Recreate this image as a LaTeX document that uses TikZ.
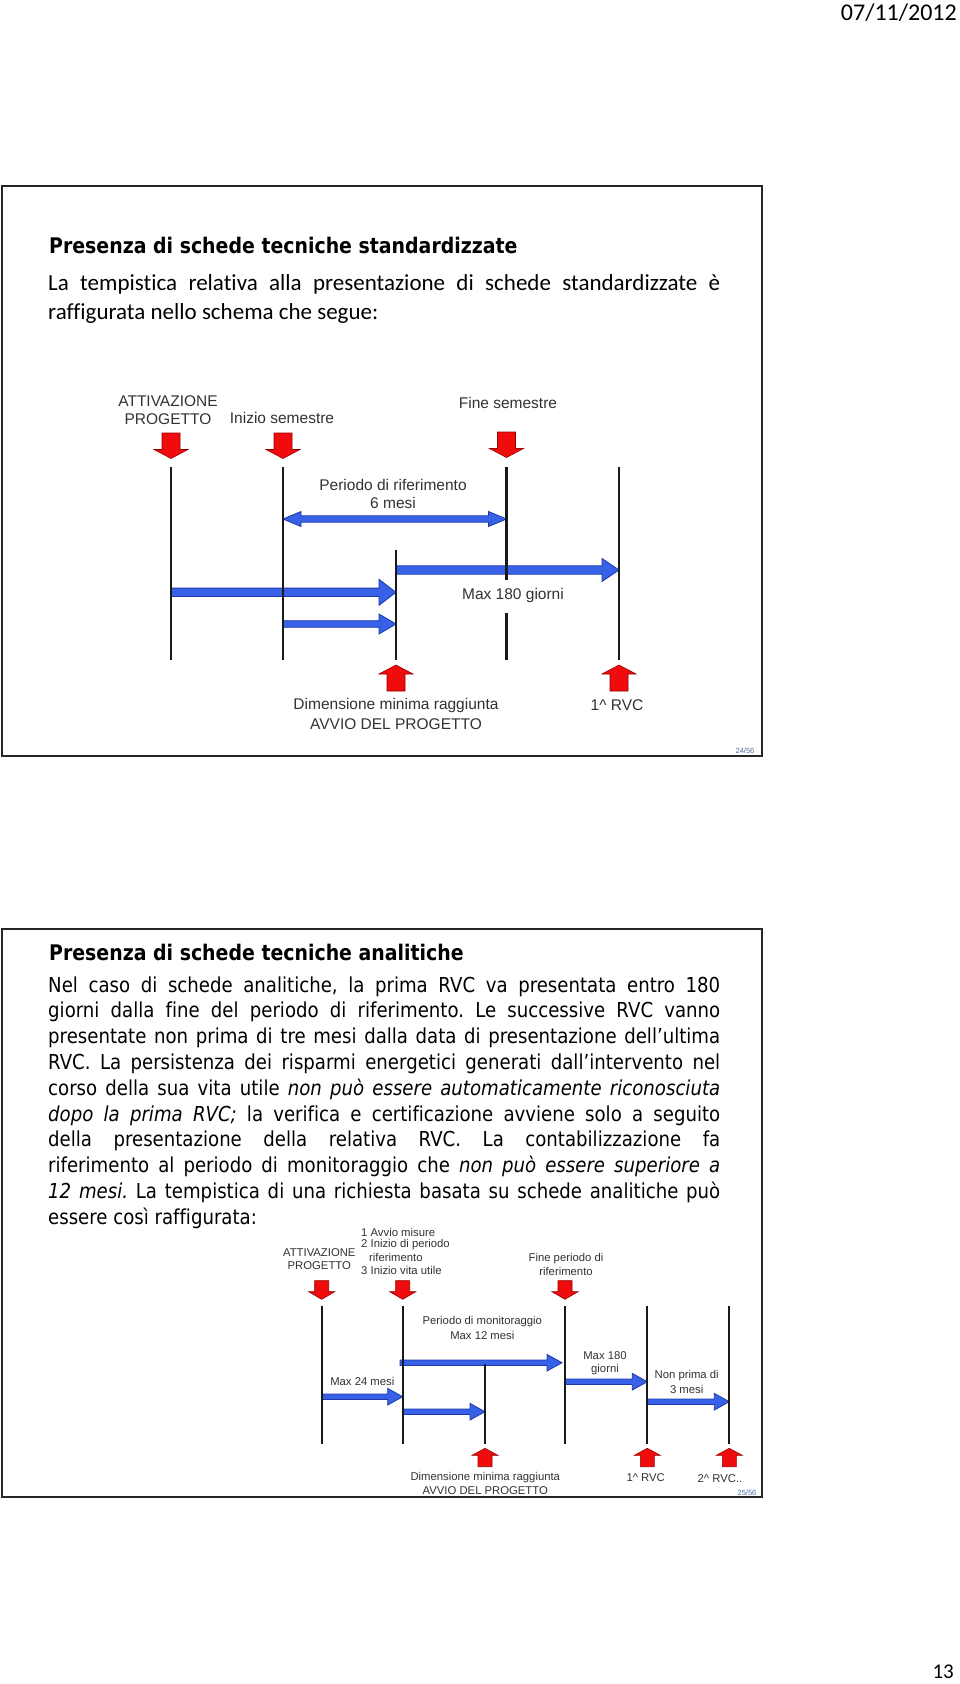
\documentclass[tikz,border=0pt]{standalone}
\usepackage{fontspec}
\setmainfont{Carlito}[Ligatures=NoCommon]
\newfontfamily\diagfont{Liberation Sans}
\newfontfamily\tahomalike{DejaVu Sans}[FakeStretch=0.88, Ligatures=NoCommon]
\usetikzlibrary{calc}
\frenchspacing

\definecolor{bluefill}{RGB}{55,98,232}
\definecolor{blueedge}{RGB}{30,55,170}
\definecolor{redfill}{RGB}{240,12,12}
\definecolor{rededge}{RGB}{150,0,0}
\definecolor{diagtext}{RGB}{50,50,50}
\definecolor{pagenum}{RGB}{80,110,160}

\tikzset{
  tline/.style={line width=2.5pt, black!90},
  blkarrow/.style={fill=bluefill, draw=blueedge, line width=0.8pt},
  redarrow/.style={fill=redfill, draw=rededge, line width=0.6pt},
  dtxtA/.style={font=\diagfont\fontsize{15.5}{18}\selectfont, text=diagtext, inner sep=0},
  dtxtB/.style={font=\diagfont\fontsize{11.3}{13}\selectfont, text=diagtext, inner sep=0},
  bodyA/.style={anchor=west, inner sep=0, font=\fontsize{23}{27}\selectfont, text height=16.5pt, text depth=5.5pt},
  bodyB/.style={anchor=west, inner sep=0, font=\tahomalike\fontsize{20.6}{25}\selectfont, text height=15pt, text depth=5pt},
  ttltxt/.style={anchor=west, inner sep=0, font=\tahomalike\bfseries\fontsize{21.5}{26}\selectfont, text height=18pt, text depth=6pt},
  slideframe/.style={draw=black!85, line width=2pt},
  pnum/.style={font=\diagfont\fontsize{7.5}{9}\selectfont, text=pagenum, inner sep=0}
}

% right block arrow: x1, x2, y, shaft half, head half, head length
\newcommand\rblk[6]{\filldraw[blkarrow] (#1,#3-#4) -- (#2-#6,#3-#4) -- (#2-#6,#3-#5) -- (#2,#3) -- (#2-#6,#3+#5) -- (#2-#6,#3+#4) -- (#1,#3+#4) -- cycle;}
% double block arrow
\newcommand\dblk[6]{\filldraw[blkarrow] (#1,#3) -- (#1+#6,#3-#5) -- (#1+#6,#3-#4) -- (#2-#6,#3-#4) -- (#2-#6,#3-#5) -- (#2,#3) -- (#2-#6,#3+#5) -- (#2-#6,#3+#4) -- (#1+#6,#3+#4) -- (#1+#6,#3+#5) -- cycle;}
% red down arrow: x, ytop, body half, head half, body len, head len
\newcommand\dred[6]{\filldraw[redarrow] (#1-#3,#2) -- (#1+#3,#2) -- (#1+#3,#2+#5) -- (#1+#4,#2+#5) -- (#1,#2+#5+#6) -- (#1-#4,#2+#5) -- (#1-#3,#2+#5) -- cycle;}
% red up arrow: x, ytip, body half, head half, body len, head len
\newcommand\ured[6]{\filldraw[redarrow] (#1,#2) -- (#1+#4,#2+#6) -- (#1+#3,#2+#6) -- (#1+#3,#2+#6+#5) -- (#1-#3,#2+#6+#5) -- (#1-#3,#2+#6) -- (#1-#4,#2+#6) -- cycle;}

\begin{document}
\begin{tikzpicture}[x=1pt,y=-1pt]
\useasboundingbox (0,0) rectangle (960,1684);
\fill[white] (0,0) rectangle (960,1684);

% header / footer
\node[anchor=east, inner sep=0, font=\fontsize{24}{27}\selectfont] (date) at (957,13) {07/11/2012};
\node[anchor=east, inner sep=0, font=\fontsize{21}{24}\selectfont] (pageno) at (954,1672) {13};

% ================= TOP SLIDE =================
\draw[slideframe] (2,186) rectangle (762,756);
\node[pnum] (pn1) at (745,751) {24/56};
\node[ttltxt] (t1) at (49,247) {Presenza di schede tecniche standardizzate};
\node[bodyA] (s1a) at (48,285) {\makebox[672pt][s]{La tempistica relativa alla presentazione di schede standardizzate è}};
\node[bodyA] (s1b) at (48,313.5) {raffigurata nello schema che segue:};

% timeline coordinates
\coordinate (P1t) at (171,467); \coordinate (P1b) at (171,660);
\coordinate (P2t) at (283,467); \coordinate (P2b) at (283,660);
\coordinate (P3t) at (396,550); \coordinate (P3b) at (396,660);
\coordinate (P4t) at (506.5,467); \coordinate (P4m) at (506.5,580);
\coordinate (P4n) at (506.5,612.5); \coordinate (P4b) at (506.5,660);
\coordinate (P5t) at (619,467); \coordinate (P5b) at (619,660);

% blue arrows
\dblk{283}{506.5}{519}{3.2}{7.5}{18}
\rblk{396}{619}{570}{4.2}{11.5}{17}
\rblk{171}{396}{592.3}{4.2}{13}{17}
\rblk{283}{396}{624}{3.3}{10}{17}

% lines
\draw[tline] (P1t) -- (P1b);
\draw[tline] (P2t) -- (P2b);
\draw[tline] (P3t) -- (P3b);
\draw[tline] (P4t) -- (P4m);
\draw[tline] (P4n) -- (P4b);
\draw[tline] (P5t) -- (P5b);

% red arrows
\dred{171}{433}{9}{17}{16.5}{9}
\dred{283}{433}{9}{17}{16.5}{9}
\dred{506.5}{432}{9}{17}{16.5}{9}
\ured{396}{665}{9}{17}{17}{9}
\ured{619}{665}{9}{17}{17}{9}

% texts
\node[dtxtA] (a1) at (168,401) {ATTIVAZIONE};
\node[dtxtA] (a2) at (168,419.5) {PROGETTO};
\node[dtxtA] (a3) at (282,418) {Inizio semestre};
\node[dtxtA] (a4) at (508,403) {Fine semestre};
\node[dtxtA] (a5) at (393,485) {Periodo di riferimento};
\node[dtxtA] (a6) at (393,503) {6 mesi};
\node[dtxtA] (a7) at (513,595) {Max 180 giorni};
\node[dtxtA] (a8) at (396,705) {Dimensione minima raggiunta};
\node[dtxtA] (a9) at (396,724) {AVVIO DEL PROGETTO};
\node[dtxtA] (a10) at (617,705) {1\textasciicircum{} RVC};

% ================= BOTTOM SLIDE =================
\draw[slideframe] (2,929) rectangle (762,1497);
\node[pnum] (pn2) at (747,1493) {25/56};
\node[ttltxt] (t2) at (49,954) {Presenza di schede tecniche analitiche};
\node[bodyB] (l1) at (48,987.0) {\makebox[672pt][s]{Nel caso di schede analitiche, la prima RVC va presentata entro 180}};
\node[bodyB] (l2) at (48,1012.8) {\makebox[672pt][s]{giorni dalla fine del periodo di riferimento. Le successive RVC vanno}};
\node[bodyB] (l3) at (48,1038.6) {\makebox[672pt][s]{presentate non prima di tre mesi dalla data di presentazione dell’ultima}};
\node[bodyB] (l4) at (48,1064.4) {\makebox[672pt][s]{RVC. La persistenza dei risparmi energetici generati dall’intervento nel}};
\node[bodyB] (l5) at (48,1090.2) {\makebox[672pt][s]{corso della sua vita utile \itshape non può essere automaticamente riconosciuta}};
\node[bodyB] (l6) at (48,1116.0) {\makebox[672pt][s]{\textit{dopo la prima RVC;} la verifica e certificazione avviene solo a seguito}};
\node[bodyB] (l7) at (48,1141.8) {\makebox[672pt][s]{della presentazione della relativa RVC. La contabilizzazione fa}};
\node[bodyB] (l8) at (48,1167.6) {\makebox[672pt][s]{riferimento al periodo di monitoraggio che \itshape non può essere superiore a}};
\node[bodyB] (l9) at (48,1193.4) {\makebox[672pt][s]{\textit{12 mesi.} La tempistica di una richiesta basata su schede analitiche può}};
\node[bodyB] (l10) at (48,1219.2) {essere così raffigurata:};

% timeline coordinates
\coordinate (Q1t) at (321.7,1305.7); \coordinate (Q1b) at (321.7,1444.3);
\coordinate (Q2t) at (402.7,1305.7); \coordinate (Q2b) at (402.7,1444.3);
\coordinate (Q3t) at (485,1364);     \coordinate (Q3b) at (485,1444.3);
\coordinate (Q4t) at (565,1305.7);   \coordinate (Q4b) at (565,1444.3);
\coordinate (Q5t) at (647.3,1305.7); \coordinate (Q5b) at (647.3,1444.3);
\coordinate (Q6t) at (729.3,1305.7); \coordinate (Q6b) at (729.3,1444.3);

% blue arrows
\rblk{400}{562}{1362.7}{2.7}{8.3}{15}
\rblk{321.7}{402.7}{1396.7}{2.7}{8.3}{15}
\rblk{402.7}{485}{1411.7}{2.7}{8.3}{15}
\rblk{565}{647.3}{1381.7}{2.7}{8.3}{15}
\rblk{647.3}{729.3}{1401.7}{2.7}{8.3}{15}

% lines
\draw[tline, line width=1.8pt] (Q1t) -- (Q1b);
\draw[tline, line width=1.8pt] (Q2t) -- (Q2b);
\draw[tline, line width=1.8pt] (Q3t) -- (Q3b);
\draw[tline, line width=1.8pt] (Q4t) -- (Q4b);
\draw[tline, line width=1.8pt] (Q5t) -- (Q5b);
\draw[tline, line width=1.8pt] (Q6t) -- (Q6b);

% red arrows
\dred{321.7}{1280.7}{7}{13}{11}{7.6}
\dred{402.7}{1280.7}{7}{13}{11}{7.6}
\dred{565}{1280.7}{7}{13}{11}{7.6}
\ured{485}{1448.3}{7}{13}{11.4}{7}
\ured{647.3}{1448.3}{7}{13}{11.4}{7}
\ured{729.3}{1448.3}{7}{13}{11.4}{7}

% texts
\node[dtxtB] (b1) at (319.3,1252.7) {ATTIVAZIONE};
\node[dtxtB] (b2) at (319.3,1265.7) {PROGETTO};
\node[dtxtB, anchor=west] (b3) at (361,1232) {1 Avvio misure};
\node[dtxtB, anchor=west] (b4) at (361,1244.7) {2 Inizio di periodo};
\node[dtxtB, anchor=west] (b5) at (369,1257.3) {riferimento};
\node[dtxtB, anchor=west] (b6) at (361,1270.7) {3 Inizio vita utile};
\node[dtxtB] (b7) at (566,1258.3) {Fine periodo di};
\node[dtxtB] (b8) at (566,1271) {riferimento};
\node[dtxtB] (b9) at (482.3,1321.7) {Periodo di monitoraggio};
\node[dtxtB] (b10) at (482.3,1335) {Max 12 mesi};
\node[dtxtB] (b11) at (362.3,1381.7) {Max 24 mesi};
\node[dtxtB] (b12) at (605,1356) {Max 180};
\node[dtxtB] (b13) at (605,1369.3) {giorni};
\node[dtxtB] (b14) at (686.7,1375.7) {Non prima di};
\node[dtxtB] (b15) at (686.7,1389) {3 mesi};
\node[dtxtB] (b16) at (485.3,1477.7) {Dimensione minima raggiunta};
\node[dtxtB] (b17) at (485.3,1490.7) {AVVIO DEL PROGETTO};
\node[dtxtB] (b18) at (645.7,1477.7) {1\textasciicircum{} RVC};
\node[dtxtB] (b19) at (720,1478.3) {2\textasciicircum{} RVC..};
\end{tikzpicture}
\end{document}
